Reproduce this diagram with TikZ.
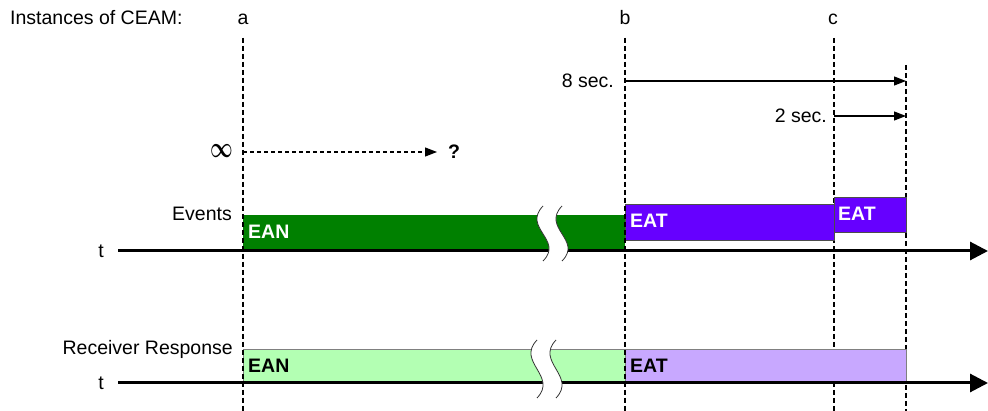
\documentclass[tikz,border=0pt]{standalone}
\usepackage{fontspec}
\setmainfont{Liberation Sans}
\usetikzlibrary{arrows.meta,positioning}

\definecolor{eangreen}{HTML}{008000}
\definecolor{eatpurple}{HTML}{6600FF}
\definecolor{eanlight}{HTML}{B3FFB3}
\definecolor{eatlight}{HTML}{C8A8FF}

\tikzset{
	txt/.style={inner sep=0pt,font=\fontsize{19.5}{22}\selectfont},
	boldtxt/.style={inner sep=0pt,font=\fontsize{19.5}{22}\selectfont\bfseries},
	instline/.style={dash pattern=on 5pt off 3pt,line width=1.2pt},
	timeaxis/.style={line width=3pt,-{Triangle[length=18pt,width=18pt]}},
	secarrow/.style={line width=1.2pt,-{Triangle[length=12pt,width=9pt]}},
	brkfill/.style={fill=white},
	brkline/.style={draw=black!80,line width=0.8pt},
}

\begin{document}
\begin{tikzpicture}[x=1pt,y=-1pt]
	\useasboundingbox (0,0) rectangle (988,411);

		% instances of CEAM
		\node[txt,anchor=base west] (title) at (10,25) {Instances of CEAM:};
		\node[txt,anchor=base] (a) at (243,25) {a};
		\node[txt,anchor=base] (b) at (625,25) {b};
		\node[txt,anchor=base] (c) at (833,25) {c};

		\coordinate (a top) at (243,38);	\coordinate (a bot) at (243,411);
		\coordinate (b top) at (625,38);	\coordinate (b bot) at (625,411);
		\coordinate (c top) at (834,38);	\coordinate (c bot) at (834,411);
		\coordinate (d top) at (906,65);	\coordinate (d bot) at (906,411);

		% dashed lines
		\draw[instline] (a top) -- (a bot);
		\draw[instline] (b top) -- (b bot);
		\draw[instline] (c top) -- (c bot);
		\draw[instline] (d top) -- (d bot);

		% timers
		\coordinate (s8 start) at (626,81);	\coordinate (s8 end) at (906,81);
		\coordinate (s2 start) at (834,116);	\coordinate (s2 end) at (906,116);
		\draw[secarrow] (s8 start) -- (s8 end);
		\draw[secarrow] (s2 start) -- (s2 end);
		\node[txt,left=12pt of s8 start] (s8) {8 sec.};
		\node[txt,left=7pt of s2 start] (s2) {2 sec.};

		% infinite
		\coordinate (inf start) at (243,152);	\coordinate (inf end) at (437,152);
		\draw[secarrow,dash pattern=on 4pt off 3pt] (inf start) -- (inf end);
		\node[inner sep=0pt,font=\fontsize{21}{21}\selectfont\boldmath] (inf) at (222,151) {\scalebox{0.95}[1.4]{$\infty$}};
		\node[boldtxt,right=11pt of inf end] (q) {?};

		% Events
		\node[txt,anchor=east] (events) at (232,214) {Events};
		\fill[eangreen] (243,215) rectangle (625,250);
		\filldraw[fill=eatpurple,draw=black!70,line width=0.8pt] (625,204) rectangle (834,240);
		\filldraw[fill=eatpurple,draw=black!70,line width=0.8pt] (834,197) rectangle (906,232);
		\node[boldtxt,anchor=west,text=white] (ean1) at (248,232) {EAN};
		\node[boldtxt,anchor=west,text=white] (eat1) at (630,221) {EAT};
		\node[boldtxt,anchor=west,text=white] (eat2) at (838,214) {EAT};

		% Receiver Response
		\node[txt,anchor=base east] (resp) at (233,355) {Receiver Response};
		\filldraw[fill=eanlight,draw=gray,line width=0.8pt] (243,349) rectangle (625,383);
		\filldraw[fill=eatlight,draw=gray,line width=0.8pt] (625,349) rectangle (906,383);
		\draw[instline] (a top) -- (a bot);
		\draw[instline] (b top) -- (b bot);
		\node[boldtxt,anchor=west] (ean2) at (248,366) {EAN};
		\node[boldtxt,anchor=west] (eat3) at (630,366) {EAT};

		% axes
		\coordinate (ax1 start) at (118,251);	\coordinate (ax1 end) at (988,251);
		\coordinate (ax2 start) at (118,383);	\coordinate (ax2 end) at (988,383);
		\draw[timeaxis] (ax1 start) -- (ax1 end);
		\draw[timeaxis] (ax2 start) -- (ax2 end);
		\node[txt,left=14pt of ax1 start] (t1) {t};
		\node[txt,left=14pt of ax2 start] (t2) {t};

		% breaks
		\path[brkfill] (543,206) .. controls (522,228) and (564,240) .. (543,261)
			-- (562,261) .. controls (583,240) and (541,228) .. (562,206) -- cycle;
		\draw[brkline] (543,206) .. controls (522,228) and (564,240) .. (543,261);
		\draw[brkline] (562,206) .. controls (541,228) and (583,240) .. (562,261);
		\path[brkfill] (537,340) .. controls (516,362) and (558,376) .. (537,398)
			-- (556,398) .. controls (577,376) and (535,362) .. (556,340) -- cycle;
		\draw[brkline] (537,340) .. controls (516,362) and (558,376) .. (537,398);
		\draw[brkline] (556,340) .. controls (535,362) and (577,376) .. (556,398);

	\end{tikzpicture}
\end{document}
